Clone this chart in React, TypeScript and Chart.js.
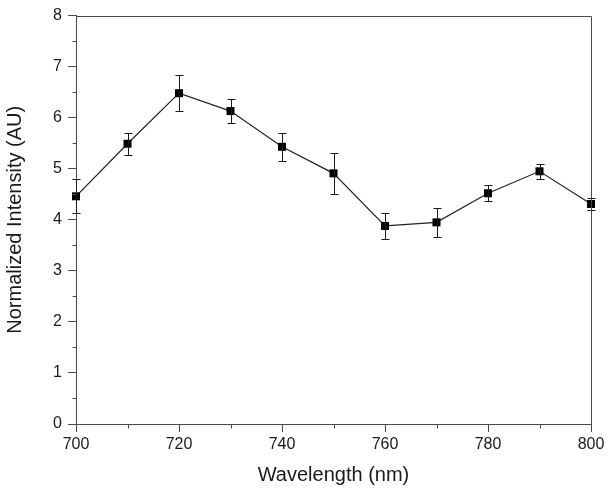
import React, { useEffect, useRef } from "react";
import { Chart, registerables } from "chart.js";

Chart.register(...registerables);

const wavelengths = [700, 710, 720, 730, 740, 750, 760, 770, 780, 790, 800];
const intensity = [4.46, 5.49, 6.48, 6.13, 5.43, 4.91, 3.88, 3.95, 4.52, 4.95, 4.31];
const errors = [0.33, 0.22, 0.35, 0.23, 0.27, 0.4, 0.25, 0.29, 0.16, 0.15, 0.12];
const xMinorTicks = [710, 730, 750, 770, 790];
const yMinorTicks = [0.5, 1.5, 2.5, 3.5, 4.5, 5.5, 6.5, 7.5];

const AXIS = "#4a4a4a";
const TEXT = "#1a1a1a";
const FONT = "'Liberation Sans', Arial, Helvetica, sans-serif";

const W = 612;
const H = 494;
const AREA_LEFT = 76;
const AREA_RIGHT = 591;
const AREA_TOP = 14;
const AREA_BOTTOM = 424;

const errorBarPlugin = {
  id: "errorBars",
  afterDatasetsDraw(chart: any) {
    const ctx = chart.ctx;
    const xs = chart.scales.x;
    const ys = chart.scales.y;
    ctx.save();
    ctx.strokeStyle = "#1a1a1a";
    ctx.lineWidth = 1;
    wavelengths.forEach((w, i) => {
      const px = Math.round(xs.getPixelForValue(w)) + 0.5;
      const top = Math.round(ys.getPixelForValue(intensity[i] + errors[i])) + 0.5;
      const bot = Math.round(ys.getPixelForValue(intensity[i] - errors[i])) + 0.5;
      ctx.beginPath();
      ctx.moveTo(px, top);
      ctx.lineTo(px, bot);
      ctx.moveTo(px - 4, top);
      ctx.lineTo(px + 4, top);
      ctx.moveTo(px - 4, bot);
      ctx.lineTo(px + 4, bot);
      ctx.stroke();
    });
    ctx.restore();
  },
};

const framePlugin = {
  id: "frame",
  afterDraw(chart: any) {
    const ctx = chart.ctx;
    const a = chart.chartArea;
    const xs = chart.scales.x;
    const ys = chart.scales.y;
    ctx.save();
    ctx.strokeStyle = AXIS;
    ctx.lineWidth = 1;
    const l = Math.round(a.left) + 0.5;
    const r = Math.round(a.right) + 0.5;
    const t = Math.round(a.top) + 0.5;
    const b = Math.round(a.bottom) + 0.5;
    ctx.beginPath();
    ctx.moveTo(l, t);
    ctx.lineTo(r, t);
    ctx.lineTo(r, b);
    ctx.stroke();
    ctx.beginPath();
    xMinorTicks.forEach((v) => {
      const px = Math.round(xs.getPixelForValue(v)) + 0.5;
      ctx.moveTo(px, b);
      ctx.lineTo(px, b + 4);
    });
    yMinorTicks.forEach((v) => {
      const py = Math.round(ys.getPixelForValue(v)) + 0.5;
      ctx.moveTo(l - 4, py);
      ctx.lineTo(l, py);
    });
    ctx.stroke();
    ctx.restore();
  },
};

export default function App() {
  const ref = useRef<HTMLCanvasElement | null>(null);
  useEffect(() => {
    if (!ref.current) return;
    const chart = new Chart(ref.current, {
      type: "line",
      data: {
        datasets: [
          {
            data: wavelengths.map((w, i) => ({ x: w, y: intensity[i] })),
            borderColor: "#222222",
            borderWidth: 1.2,
            pointStyle: "rect",
            pointRadius: 5.66,
            pointBorderWidth: 0,
            pointBackgroundColor: "#000000",
            pointBorderColor: "#000000",
            tension: 0,
            clip: false as any,
          },
        ],
      },
      options: {
        animation: false,
        responsive: false,
        events: [],
        layout: {
          padding: { left: 0, top: AREA_TOP, right: W - AREA_RIGHT, bottom: 0 },
        },
        plugins: {
          legend: { display: false },
          tooltip: { enabled: false },
          title: { display: false },
        },
        scales: {
          x: {
            type: "linear",
            min: 700,
            max: 800,
            afterFit(scale: any) {
              scale.height = H - AREA_BOTTOM;
            },
            ticks: {
              stepSize: 20,
              autoSkip: false,
              maxRotation: 0,
              padding: 3,
              color: TEXT,
              font: { family: FONT, size: 16 },
            },
            grid: {
              display: true,
              drawOnChartArea: false,
              drawTicks: true,
              tickLength: 8,
              tickColor: AXIS,
              lineWidth: 1,
            },
            border: { display: true, color: AXIS, width: 1 },
            title: {
              display: true,
              text: "Wavelength (nm)",
              color: TEXT,
              font: { family: FONT, size: 20 },
              padding: { top: 0, bottom: 7 },
            },
          },
          y: {
            type: "linear",
            min: 0,
            max: 8,
            afterFit(scale: any) {
              scale.width = AREA_LEFT;
            },
            ticks: {
              stepSize: 1,
              padding: 6,
              color: TEXT,
              font: { family: FONT, size: 16 },
            },
            grid: {
              display: true,
              drawOnChartArea: false,
              drawTicks: true,
              tickLength: 8,
              tickColor: AXIS,
              lineWidth: 1,
            },
            border: { display: true, color: AXIS, width: 1 },
            title: {
              display: true,
              text: "Normalized Intensity (AU)",
              color: TEXT,
              font: { family: FONT, size: 20 },
              padding: { top: 3, bottom: 0 },
            },
          },
        },
      },
      plugins: [errorBarPlugin, framePlugin],
    });
    return () => chart.destroy();
  }, []);
  return (
    <div style={{ position: "absolute", left: 0, top: 0, width: W, height: H, background: "#fff" }}>
      <canvas ref={ref} width={W} height={H} style={{ display: "block", width: W, height: H }} />
    </div>
  );
}
